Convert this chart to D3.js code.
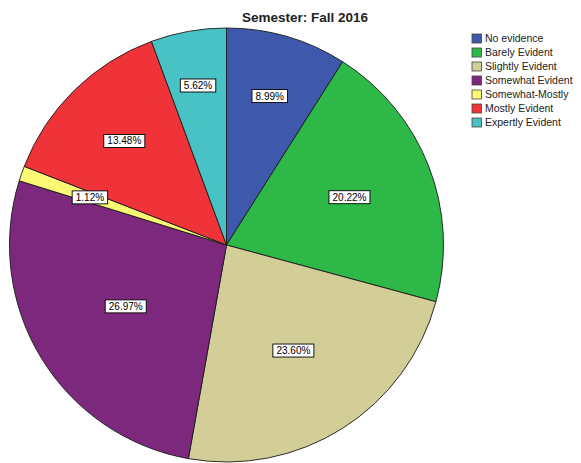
<!DOCTYPE html>
<html>
<head>
<meta charset="utf-8">
<script src="https://cdn.jsdelivr.net/npm/d3@7"></script>
<style>
  html, body { margin: 0; padding: 0; background: #fff; }
  svg { display: block; font-family: Arial, "Liberation Sans", sans-serif; }
</style>
</head>
<body>
<svg id="chart" width="581" height="463"></svg>
<script>
// Rating categories, their shares (percent of responses) and slice colours
const categories = ["No evidence", "Barely Evident", "Slightly Evident", "Somewhat Evident",
                    "Somewhat-Mostly", "Mostly Evident", "Expertly Evident"];
const percents = [8.99, 20.22, 23.60, 26.97, 1.12, 13.48, 5.62];
const colors = ["#3E58AC", "#2EB848", "#D3CE97", "#7C287D", "#FBF873", "#EF3338", "#48C2C5"];
const title = "Semester: Fall 2016";

const svg = d3.select("#chart");
const cx = 226.5, cy = 245, R = 217;

const data = categories.map((c, i) => ({ name: c, value: percents[i], color: colors[i] }));

const pie = d3.pie().value(d => d.value).sort(null).startAngle(0).endAngle(2 * Math.PI);
const arc = d3.arc().innerRadius(0).outerRadius(R);
const arcs = pie(data);

const g = svg.append("g").attr("transform", `translate(${cx},${cy})`);

g.selectAll("path.slice")
  .data(arcs)
  .join("path")
  .attr("class", "slice")
  .attr("d", arc)
  .attr("fill", d => d.data.color)
  .attr("stroke", "#1a1a1a")
  .attr("stroke-width", 0.9)
  .attr("stroke-linejoin", "round");

// Percentage labels in white boxes
const fmt = d3.format(".2f");
const labels = g.selectAll("g.lab")
  .data(arcs)
  .join("g")
  .attr("class", "lab");

labels.append("text")
  .attr("text-anchor", "middle")
  .attr("dy", "0.35em")
  .attr("font-size", 10)
  .attr("fill", "#000")
  .text(d => fmt(d.data.value) + "%");

labels.each(function (d) {
  const grp = d3.select(this);
  const bb = grp.select("text").node().getBBox();
  const bw = bb.width + 7;
  grp.insert("rect", "text")
    .attr("x", -bw / 2)
    .attr("y", -6.5)
    .attr("width", bw)
    .attr("height", 13)
    .attr("fill", "#fff")
    .attr("stroke", "#000")
    .attr("stroke-width", 0.9);

  // small slices sit further out, large ones nearer the centre;
  // a slice too narrow to hold its box falls back to the 2/3-radius point
  const f = d.data.value / 100;
  let k = Math.min(0.75, 0.80 - 0.95 * f);
  const span = d.endAngle - d.startAngle;
  if (R * k * span < bw) k = 2 / 3;
  const a = (d.startAngle + d.endAngle) / 2;
  grp.attr("transform", `translate(${Math.sin(a) * R * k},${-Math.cos(a) * R * k})`);
});

// Title
svg.append("text")
  .attr("x", 305)
  .attr("y", 22)
  .attr("text-anchor", "middle")
  .attr("font-size", 13.5)
  .attr("font-weight", "bold")
  .attr("fill", "#222")
  .text(title);

// Legend
const legend = svg.append("g").attr("transform", "translate(472,34)");
const rowH = 14;
const items = legend.selectAll("g.item")
  .data(data)
  .join("g")
  .attr("class", "item")
  .attr("transform", (d, i) => `translate(0,${i * rowH})`);

items.append("rect")
  .attr("width", 9.5)
  .attr("height", 9)
  .attr("fill", d => d.color)
  .attr("stroke", "#444")
  .attr("stroke-width", 0.8);

items.append("text")
  .attr("x", 13)
  .attr("y", 4.5)
  .attr("dy", "0.35em")
  .attr("font-size", 10.5)
  .attr("fill", "#222")
  .text(d => d.name);
</script>
</body>
</html>
